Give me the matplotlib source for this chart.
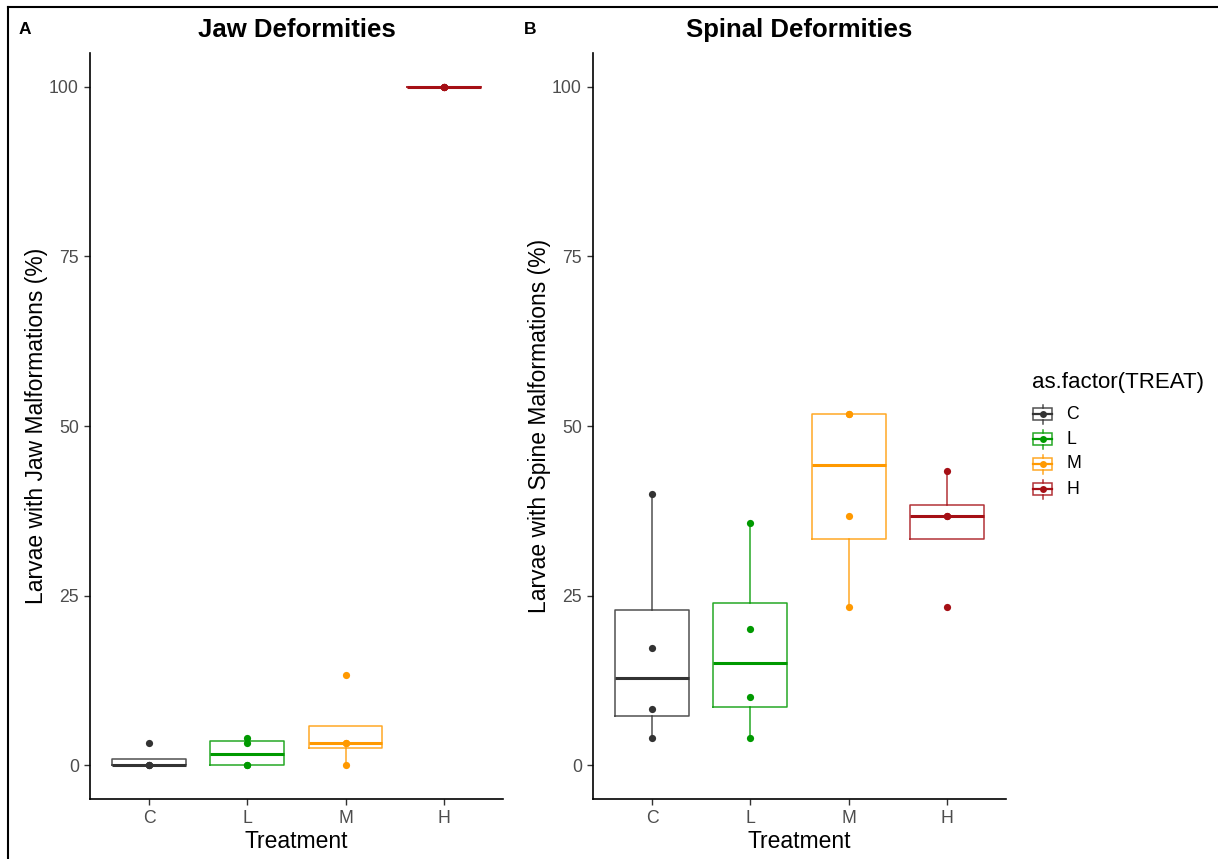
import matplotlib.pyplot as plt
from matplotlib.lines import Line2D
from matplotlib.patches import Rectangle
import numpy as np

plt.rcParams['font.family'] = ['Liberation Sans', 'DejaVu Sans']

treat = ['C', 'L', 'M', 'H']
treat_colors = ['#333333', '#009900', '#FF9900', '#A50F15']

# percent of larvae per replicate tank
jaw_C = [0.0, 0.0, 0.0, 3.33]
jaw_L = [0.0, 0.0, 3.33, 4.0]
jaw_M = [0.0, 3.33, 3.33, 13.33]
jaw_H = [100.0, 100.0, 100.0, 100.0]

spine_C = [4.0, 8.33, 17.24, 40.0]
spine_L = [4.0, 10.0, 20.0, 35.71]
spine_M = [23.33, 36.67, 51.72, 51.72]
spine_H = [23.33, 36.67, 36.67, 43.33]

yticks = [0, 25, 50, 75, 100]


def box_panel(ax, groups, title, ylabel):
    pos = np.arange(1, len(groups) + 1)
    for p, vals, col in zip(pos, groups, treat_colors):
        ax.boxplot([vals], positions=[p], widths=0.75, whis=1.5,
                   showcaps=False, showfliers=False, patch_artist=False,
                   boxprops=dict(color=col, linewidth=1.1, alpha=0.85),
                   whiskerprops=dict(color=col, linewidth=1.1, alpha=0.85),
                   medianprops=dict(color=col, linewidth=2.2, solid_capstyle='butt'))
        ax.plot([p] * len(vals), vals, 'o', color=col, ms=5.2, mec='none', zorder=5)
    ax.set_xlim(0.4, 4.6)
    ax.set_ylim(-5, 105)
    ax.set_xticks(pos)
    ax.set_xticklabels(treat)
    ax.set_yticks(yticks)
    for s in ['top', 'right']:
        ax.spines[s].set_visible(False)
    for s in ['left', 'bottom']:
        ax.spines[s].set_linewidth(1.2)
    ax.tick_params(length=4, width=1.0, color='#333333', labelcolor='#4D4D4D',
                   labelsize=12.7, pad=4)
    ax.set_xlabel('Treatment', fontsize=16.5, labelpad=2)
    ax.set_ylabel(ylabel, fontsize=16.5, labelpad=1)
    ax.set_title(title, fontsize=18.5, fontweight='bold', pad=11.5)


fig = plt.figure(figsize=(12.18, 8.59), dpi=100)
ax1 = fig.add_axes([0.0739, 0.0698, 0.339, 0.8685])
ax2 = fig.add_axes([0.4869, 0.0698, 0.339, 0.8685])

box_panel(ax1, [jaw_C, jaw_L, jaw_M, jaw_H], 'Jaw Deformities',
          'Larvae with Jaw Malformations (%)')
box_panel(ax2, [spine_C, spine_L, spine_M, spine_H], 'Spinal Deformities',
          'Larvae with Spine Malformations (%)')

fig.text(19 / 1218, 1 - 34 / 859, 'A', fontsize=12.5, fontweight='bold', va='baseline')
fig.text(524 / 1218, 1 - 34 / 859, 'B', fontsize=12.5, fontweight='bold', va='baseline')

# outer frame
fig.add_artist(Line2D([8 / 1218, 8 / 1218], [0, 1 - 7 / 859], color='black', lw=1.5))
fig.add_artist(Line2D([8 / 1218, 1], [1 - 7 / 859, 1 - 7 / 859], color='black', lw=1.5))

# legend
fig.text(1032 / 1218, 1 - 383 / 859, 'as.factor(TREAT)', fontsize=16, va='center')
lax = fig.add_axes([1030 / 1218, 1 - 500 / 859, 24 / 1218, 100 / 859])
lax.set_xlim(0, 24)
lax.set_ylim(500, 400)
lax.axis('off')
for i, (lab, col) in enumerate(zip(treat, treat_colors)):
    yc = 414 + 25 * i
    lax.add_patch(Rectangle((3, yc - 6), 19, 12, fill=False, ec=col, lw=1.1, alpha=0.85))
    lax.plot([3, 22], [yc, yc], color=col, lw=1.6)
    lax.plot([12.5, 12.5], [yc - 9.5, yc - 6], color=col, lw=1.1, alpha=0.85)
    lax.plot([12.5, 12.5], [yc + 6, yc + 9.5], color=col, lw=1.1, alpha=0.85)
    lax.plot(12.5, yc, 'o', color=col, ms=5, mec='none')
    fig.text(1066 / 1218, 1 - yc / 859, lab, fontsize=12.7, va='center')

fig.savefig('out.png', dpi=100)
